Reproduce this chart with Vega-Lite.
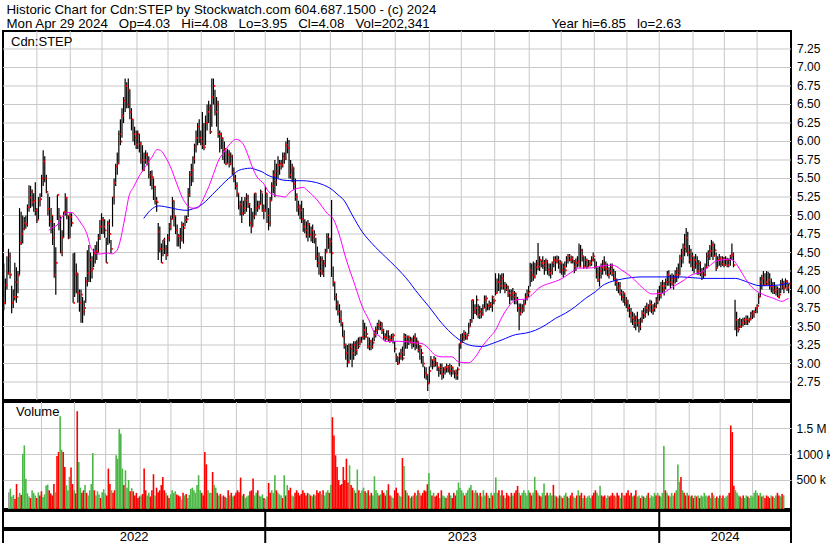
{
"$schema":"https://vega.github.io/schema/vega-lite/v6.json",
"background":"white",
"padding":{"left":1,"top":3,"right":0,"bottom":0},
"config":{"view":{"stroke":"#000","strokeWidth":2},"font":"Liberation Sans","axisX":{"disable":true},"axis":{"gridColor":"#c8c8c8","gridOpacity":1,"labelFont":"Liberation Sans","labelFontSize":12,"labelColor":"#000","ticks":false,"domain":false,"labelOverlap":false}},
"title":{"text":["Historic Chart for Cdn:STEP by Stockwatch.com 604.687.1500 - (c) 2024","Mon Apr 29 2024 \u00a0 Op=4.03 \u00a0 Hi=4.08 \u00a0 Lo=3.95 \u00a0 Cl=4.08 \u00a0 Vol=202,341 \u00a0\u00a0\u00a0\u00a0\u00a0\u00a0\u00a0\u00a0\u00a0\u00a0\u00a0\u00a0\u00a0\u00a0\u00a0\u00a0\u00a0\u00a0\u00a0\u00a0\u00a0\u00a0\u00a0\u00a0\u00a0\u00a0\u00a0\u00a0\u00a0\u00a0\u00a0 Year hi=6.85 \u00a0 lo=2.63"],"anchor":"start","fontSize":13.3,"fontWeight":"normal","font":"Liberation Sans","color":"#000","lineHeight":14,"offset":-1,"dx":5},
"datasets":{
"px":[
{"i":2,"h":4.35,"l":3.72,"c":3.82,"v":260},{"i":3,"h":4.15,"l":3.80,"c":4.06,"v":330},{"i":4,"h":4.45,"l":4.00,"c":4.22,"v":180},{"i":5,"h":4.55,"l":4.20,"c":4.45,"v":210},{"i":6,"h":4.50,"l":4.15,"c":4.20,"v":130},{"i":7,"h":4.05,"l":3.68,"c":3.82,"v":420},{"i":8,"h":4.00,"l":3.75,"c":3.90,"v":170},{"i":9,"h":4.36,"l":3.85,"c":4.10,"v":250},{"i":10,"h":4.30,"l":3.82,"c":3.90,"v":210},{"i":11,"h":4.25,"l":3.95,"c":4.19,"v":1006},
{"i":12,"h":5.10,"l":4.20,"c":4.63,"v":1167},{"i":13,"h":5.05,"l":4.60,"c":4.75,"v":520},{"i":14,"h":5.00,"l":4.62,"c":4.82,"v":240},{"i":15,"h":4.98,"l":4.80,"c":4.90,"v":180},{"i":16,"h":5.00,"l":4.82,"c":4.88,"v":150},{"i":17,"h":5.15,"l":4.85,"c":5.11,"v":300},{"i":18,"h":5.41,"l":5.05,"c":5.24,"v":250},{"i":19,"h":5.40,"l":5.10,"c":5.32,"v":200},{"i":20,"h":5.35,"l":5.12,"c":5.18,"v":150},{"i":21,"h":5.30,"l":5.05,"c":5.20,"v":260},
{"i":22,"h":5.45,"l":5.00,"c":5.07,"v":200},{"i":23,"h":5.10,"l":4.90,"c":4.94,"v":280},{"i":24,"h":5.25,"l":4.95,"c":5.20,"v":170},{"i":25,"h":5.30,"l":5.12,"c":5.22,"v":220},{"i":26,"h":5.55,"l":5.25,"c":5.50,"v":390},{"i":27,"h":5.88,"l":5.40,"c":5.73,"v":410},{"i":28,"h":5.80,"l":5.45,"c":5.50,"v":300},{"i":29,"h":5.55,"l":5.30,"c":5.32,"v":240},{"i":30,"h":5.30,"l":5.00,"c":5.09,"v":200},{"i":31,"h":5.25,"l":4.85,"c":4.92,"v":420},
{"i":32,"h":5.10,"l":4.76,"c":5.00,"v":260},{"i":33,"h":5.00,"l":4.60,"c":4.70,"v":960},{"i":34,"h":4.90,"l":4.16,"c":4.20,"v":1040},{"i":35,"h":4.57,"l":3.93,"c":4.36,"v":1730},{"i":36,"h":5.28,"l":4.94,"c":5.28,"v":1083},{"i":37,"h":5.10,"l":4.80,"c":4.99,"v":1040},{"i":38,"h":4.98,"l":4.49,"c":4.50,"v":750},{"i":39,"h":4.80,"l":4.45,"c":4.70,"v":400},{"i":40,"h":5.05,"l":4.70,"c":5.05,"v":300},{"i":41,"h":5.30,"l":5.00,"c":5.24,"v":560},
{"i":42,"h":5.25,"l":4.95,"c":5.00,"v":740},{"i":43,"h":5.00,"l":4.68,"c":4.70,"v":420},{"i":44,"h":5.03,"l":4.70,"c":4.98,"v":300},{"i":45,"h":5.03,"l":4.85,"c":4.90,"v":240},{"i":46,"h":4.49,"l":3.82,"c":3.82,"v":1827},{"i":47,"h":4.50,"l":3.90,"c":4.20,"v":846},{"i":48,"h":4.35,"l":3.95,"c":4.22,"v":350},{"i":49,"h":4.22,"l":3.82,"c":3.95,"v":250},{"i":50,"h":4.00,"l":3.70,"c":3.82,"v":300},{"i":51,"h":4.00,"l":3.55,"c":3.93,"v":400},
{"i":52,"h":3.90,"l":3.55,"c":3.70,"v":250},{"i":53,"h":3.85,"l":3.65,"c":3.75,"v":200},{"i":54,"h":4.17,"l":3.82,"c":4.11,"v":300},{"i":55,"h":4.53,"l":4.04,"c":4.22,"v":420},{"i":56,"h":4.60,"l":4.10,"c":4.40,"v":1019},{"i":57,"h":4.50,"l":4.10,"c":4.25,"v":300},{"i":58,"h":4.45,"l":4.15,"c":4.28,"v":200},{"i":59,"h":4.55,"l":4.30,"c":4.49,"v":280},{"i":60,"h":4.60,"l":4.35,"c":4.52,"v":220},{"i":61,"h":4.65,"l":4.40,"c":4.50,"v":150},
{"i":62,"h":4.75,"l":4.50,"c":4.70,"v":260},{"i":63,"h":4.94,"l":4.67,"c":4.85,"v":320},{"i":64,"h":5.03,"l":4.75,"c":4.94,"v":240},{"i":65,"h":4.98,"l":4.75,"c":4.85,"v":200},{"i":66,"h":4.95,"l":4.70,"c":4.80,"v":718},{"i":67,"h":4.70,"l":4.36,"c":4.36,"v":420},{"i":68,"h":4.93,"l":4.60,"c":4.89,"v":300},{"i":69,"h":4.95,"l":4.62,"c":4.75,"v":250},{"i":70,"h":4.67,"l":4.49,"c":4.55,"v":300},{"i":71,"h":5.25,"l":4.85,"c":5.25,"v":974},
{"i":72,"h":5.50,"l":5.15,"c":5.44,"v":910},{"i":73,"h":5.70,"l":5.40,"c":5.66,"v":1480},{"i":74,"h":5.85,"l":5.55,"c":5.70,"v":1390},{"i":75,"h":6.15,"l":5.70,"c":6.10,"v":720},{"i":76,"h":6.30,"l":5.95,"c":6.00,"v":400},{"i":77,"h":6.45,"l":6.05,"c":6.35,"v":686},{"i":78,"h":6.60,"l":6.25,"c":6.55,"v":350},{"i":79,"h":6.85,"l":6.40,"c":6.75,"v":500},{"i":80,"h":6.80,"l":6.45,"c":6.50,"v":280},{"i":81,"h":6.85,"l":6.45,"c":6.70,"v":340},
{"i":82,"h":6.70,"l":6.30,"c":6.40,"v":280},{"i":83,"h":6.45,"l":6.15,"c":6.30,"v":200},{"i":84,"h":6.30,"l":6.00,"c":6.10,"v":250},{"i":85,"h":6.20,"l":5.95,"c":6.05,"v":150},{"i":86,"h":6.15,"l":5.90,"c":5.96,"v":180},{"i":87,"h":6.15,"l":5.90,"c":6.10,"v":200},{"i":88,"h":6.10,"l":5.85,"c":5.97,"v":230},{"i":89,"h":6.00,"l":5.70,"c":5.75,"v":718},{"i":90,"h":5.95,"l":5.60,"c":5.61,"v":300},{"i":91,"h":5.85,"l":5.60,"c":5.75,"v":200},
{"i":92,"h":5.88,"l":5.70,"c":5.82,"v":250},{"i":93,"h":5.85,"l":5.68,"c":5.73,"v":180},{"i":94,"h":5.80,"l":5.50,"c":5.55,"v":300},{"i":95,"h":5.60,"l":5.40,"c":5.50,"v":609},{"i":96,"h":5.61,"l":5.35,"c":5.52,"v":200},{"i":97,"h":5.50,"l":5.21,"c":5.39,"v":350},{"i":98,"h":5.40,"l":5.15,"c":5.20,"v":260},{"i":99,"h":5.25,"l":5.05,"c":5.18,"v":300},{"i":100,"h":4.90,"l":4.40,"c":4.78,"v":400},{"i":101,"h":4.85,"l":4.50,"c":4.55,"v":558},
{"i":102,"h":4.62,"l":4.36,"c":4.36,"v":300},{"i":103,"h":4.67,"l":4.45,"c":4.67,"v":250},{"i":104,"h":4.70,"l":4.48,"c":4.55,"v":200},{"i":105,"h":4.60,"l":4.40,"c":4.47,"v":150},{"i":106,"h":4.75,"l":4.45,"c":4.70,"v":220},{"i":107,"h":4.90,"l":4.65,"c":4.85,"v":300},{"i":108,"h":5.00,"l":4.80,"c":4.95,"v":250},{"i":109,"h":5.25,"l":4.95,"c":5.20,"v":280},{"i":110,"h":5.20,"l":4.85,"c":4.99,"v":220},{"i":111,"h":5.00,"l":4.75,"c":4.80,"v":200},
{"i":112,"h":4.88,"l":4.58,"c":4.72,"v":180},{"i":113,"h":4.75,"l":4.58,"c":4.72,"v":120},{"i":114,"h":4.83,"l":4.55,"c":4.67,"v":250},{"i":115,"h":4.92,"l":4.65,"c":4.87,"v":200},{"i":116,"h":4.90,"l":4.62,"c":4.83,"v":230},{"i":117,"h":5.00,"l":4.85,"c":4.94,"v":150},{"i":118,"h":5.00,"l":4.90,"c":4.95,"v":210},{"i":119,"h":5.37,"l":4.98,"c":5.28,"v":330},{"i":120,"h":5.60,"l":5.25,"c":5.55,"v":350},{"i":121,"h":5.70,"l":5.40,"c":5.61,"v":300},
{"i":122,"h":5.80,"l":5.45,"c":5.77,"v":250},{"i":123,"h":5.97,"l":5.70,"c":5.93,"v":400},{"i":124,"h":6.15,"l":5.85,"c":6.05,"v":590},{"i":125,"h":6.25,"l":5.95,"c":6.20,"v":300},{"i":126,"h":6.30,"l":5.98,"c":6.05,"v":250},{"i":127,"h":6.15,"l":5.95,"c":6.00,"v":200},{"i":128,"h":6.40,"l":5.90,"c":5.95,"v":1040},{"i":129,"h":6.25,"l":5.88,"c":5.92,"v":800},{"i":130,"h":6.35,"l":5.95,"c":6.25,"v":300},{"i":131,"h":6.50,"l":6.15,"c":6.40,"v":250},
{"i":132,"h":6.55,"l":6.25,"c":6.45,"v":250},{"i":133,"h":6.50,"l":6.10,"c":6.13,"v":654},{"i":134,"h":6.85,"l":6.20,"c":6.60,"v":400},{"i":135,"h":6.85,"l":6.50,"c":6.75,"v":350},{"i":136,"h":6.70,"l":6.35,"c":6.40,"v":250},{"i":137,"h":6.60,"l":6.20,"c":6.50,"v":200},{"i":138,"h":6.55,"l":6.05,"c":6.10,"v":230},{"i":139,"h":6.15,"l":5.85,"c":6.10,"v":180},{"i":140,"h":6.12,"l":5.90,"c":6.05,"v":200},{"i":141,"h":6.05,"l":5.75,"c":5.88,"v":170},
{"i":142,"h":6.00,"l":5.70,"c":5.90,"v":150},{"i":143,"h":5.88,"l":5.68,"c":5.70,"v":300},{"i":144,"h":5.90,"l":5.70,"c":5.82,"v":200},{"i":145,"h":5.88,"l":5.65,"c":5.70,"v":250},{"i":146,"h":5.85,"l":5.68,"c":5.80,"v":180},{"i":147,"h":5.82,"l":5.55,"c":5.59,"v":200},{"i":148,"h":5.65,"l":5.45,"c":5.50,"v":250},{"i":149,"h":5.55,"l":5.35,"c":5.40,"v":300},{"i":150,"h":5.45,"l":5.25,"c":5.30,"v":260},{"i":151,"h":5.30,"l":5.08,"c":5.12,"v":545},
{"i":152,"h":5.20,"l":5.00,"c":5.15,"v":200},{"i":153,"h":5.25,"l":4.90,"c":5.03,"v":230},{"i":154,"h":5.20,"l":5.00,"c":5.10,"v":150},{"i":155,"h":5.25,"l":5.02,"c":5.20,"v":180},{"i":156,"h":5.30,"l":5.05,"c":5.25,"v":200},{"i":157,"h":5.28,"l":5.10,"c":5.15,"v":280},{"i":158,"h":5.17,"l":4.85,"c":4.90,"v":300},{"i":159,"h":5.10,"l":4.76,"c":4.85,"v":525},{"i":160,"h":5.05,"l":4.85,"c":4.99,"v":200},{"i":161,"h":5.30,"l":4.95,"c":5.30,"v":250},
{"i":162,"h":5.30,"l":5.00,"c":5.10,"v":300},{"i":163,"h":5.20,"l":5.05,"c":5.12,"v":200},{"i":164,"h":5.20,"l":5.08,"c":5.15,"v":180},{"i":165,"h":5.35,"l":5.15,"c":5.32,"v":220},{"i":166,"h":5.30,"l":5.05,"c":5.07,"v":150},{"i":167,"h":5.15,"l":4.95,"c":5.07,"v":130},{"i":168,"h":5.40,"l":5.05,"c":5.30,"v":180},{"i":169,"h":5.30,"l":4.90,"c":5.00,"v":440},{"i":170,"h":5.10,"l":4.80,"c":4.90,"v":250},{"i":171,"h":5.25,"l":4.85,"c":5.20,"v":300},
{"i":172,"h":5.45,"l":5.20,"c":5.40,"v":250},{"i":173,"h":5.61,"l":5.30,"c":5.55,"v":590},{"i":174,"h":5.75,"l":5.25,"c":5.45,"v":300},{"i":175,"h":5.70,"l":5.40,"c":5.60,"v":250},{"i":176,"h":5.80,"l":5.50,"c":5.68,"v":220},{"i":177,"h":5.75,"l":5.55,"c":5.70,"v":200},{"i":178,"h":5.75,"l":5.62,"c":5.68,"v":150},{"i":179,"h":5.85,"l":5.65,"c":5.80,"v":590},{"i":180,"h":5.85,"l":5.70,"c":5.77,"v":200},{"i":181,"h":6.00,"l":5.75,"c":5.95,"v":400},
{"i":182,"h":6.05,"l":5.84,"c":5.91,"v":300},{"i":183,"h":6.02,"l":5.50,"c":5.55,"v":350},{"i":184,"h":5.75,"l":5.50,"c":5.61,"v":200},{"i":185,"h":5.70,"l":5.45,"c":5.65,"v":180},{"i":186,"h":5.65,"l":5.35,"c":5.43,"v":250},{"i":187,"h":5.50,"l":5.20,"c":5.25,"v":300},{"i":188,"h":5.30,"l":5.05,"c":5.12,"v":250},{"i":189,"h":5.20,"l":5.00,"c":5.10,"v":200},{"i":190,"h":5.15,"l":4.95,"c":5.07,"v":230},{"i":191,"h":5.20,"l":4.90,"c":4.95,"v":300},
{"i":192,"h":5.10,"l":4.78,"c":4.85,"v":250},{"i":193,"h":4.95,"l":4.76,"c":4.80,"v":200},{"i":194,"h":4.92,"l":4.70,"c":4.74,"v":250},{"i":195,"h":4.94,"l":4.65,"c":4.88,"v":230},{"i":196,"h":4.90,"l":4.70,"c":4.74,"v":200},{"i":197,"h":4.85,"l":4.65,"c":4.80,"v":180},{"i":198,"h":4.88,"l":4.63,"c":4.70,"v":220},{"i":199,"h":4.80,"l":4.62,"c":4.74,"v":200},{"i":200,"h":4.70,"l":4.40,"c":4.45,"v":300},{"i":201,"h":4.58,"l":4.30,"c":4.36,"v":250},
{"i":202,"h":4.50,"l":4.20,"c":4.25,"v":280},{"i":203,"h":4.45,"l":4.17,"c":4.40,"v":220},{"i":204,"h":4.45,"l":4.20,"c":4.22,"v":300},{"i":205,"h":4.40,"l":4.17,"c":4.35,"v":200},{"i":206,"h":4.55,"l":4.30,"c":4.50,"v":260},{"i":207,"h":4.76,"l":4.50,"c":4.71,"v":300},{"i":208,"h":4.76,"l":4.55,"c":4.60,"v":250},{"i":209,"h":4.70,"l":4.49,"c":4.65,"v":400},{"i":210,"h":5.21,"l":4.17,"c":4.49,"v":1711},{"i":211,"h":4.31,"l":4.04,"c":4.10,"v":1359},
{"i":212,"h":4.10,"l":3.85,"c":3.90,"v":975},{"i":213,"h":3.95,"l":3.72,"c":3.80,"v":750},{"i":214,"h":3.85,"l":3.65,"c":3.70,"v":500},{"i":215,"h":3.80,"l":3.55,"c":3.60,"v":400},{"i":216,"h":3.72,"l":3.50,"c":3.55,"v":420},{"i":217,"h":3.55,"l":3.36,"c":3.36,"v":750},{"i":218,"h":3.45,"l":3.20,"c":3.25,"v":500},{"i":219,"h":3.27,"l":3.05,"c":3.14,"v":910},{"i":220,"h":3.25,"l":2.95,"c":3.02,"v":450},{"i":221,"h":3.27,"l":3.00,"c":3.23,"v":782},
{"i":222,"h":3.27,"l":3.05,"c":3.20,"v":400},{"i":223,"h":3.27,"l":2.95,"c":3.14,"v":350},{"i":224,"h":3.30,"l":3.05,"c":3.25,"v":300},{"i":225,"h":3.30,"l":3.10,"c":3.18,"v":250},{"i":226,"h":3.32,"l":3.12,"c":3.28,"v":700},{"i":227,"h":3.35,"l":3.20,"c":3.23,"v":300},{"i":228,"h":3.36,"l":3.25,"c":3.30,"v":250},{"i":229,"h":3.36,"l":3.28,"c":3.36,"v":300},{"i":230,"h":3.59,"l":3.32,"c":3.45,"v":350},{"i":231,"h":3.55,"l":3.32,"c":3.36,"v":280},
{"i":232,"h":3.50,"l":3.35,"c":3.40,"v":250},{"i":233,"h":3.36,"l":3.20,"c":3.23,"v":300},{"i":234,"h":3.35,"l":3.18,"c":3.30,"v":200},{"i":235,"h":3.32,"l":3.18,"c":3.23,"v":250},{"i":236,"h":3.35,"l":3.20,"c":3.28,"v":200},{"i":237,"h":3.45,"l":3.30,"c":3.39,"v":570},{"i":238,"h":3.50,"l":3.35,"c":3.45,"v":300},{"i":239,"h":3.55,"l":3.40,"c":3.52,"v":250},{"i":240,"h":3.59,"l":3.45,"c":3.50,"v":200},{"i":241,"h":3.57,"l":3.45,"c":3.55,"v":220},
{"i":242,"h":3.55,"l":3.40,"c":3.45,"v":300},{"i":243,"h":3.47,"l":3.32,"c":3.36,"v":250},{"i":244,"h":3.41,"l":3.30,"c":3.35,"v":200},{"i":245,"h":3.45,"l":3.32,"c":3.43,"v":300},{"i":246,"h":3.45,"l":3.30,"c":3.33,"v":417},{"i":247,"h":3.38,"l":3.28,"c":3.32,"v":200},{"i":248,"h":3.40,"l":3.30,"c":3.36,"v":180},{"i":249,"h":3.41,"l":3.27,"c":3.38,"v":150},{"i":250,"h":3.30,"l":3.15,"c":3.20,"v":300},{"i":251,"h":3.14,"l":3.02,"c":3.09,"v":350},
{"i":252,"h":3.09,"l":2.98,"c":3.00,"v":250},{"i":253,"h":3.15,"l":3.00,"c":3.10,"v":200},{"i":254,"h":3.20,"l":3.05,"c":3.15,"v":180},{"i":255,"h":3.23,"l":3.04,"c":3.07,"v":923},{"i":256,"h":3.41,"l":3.10,"c":3.36,"v":770},{"i":257,"h":3.40,"l":3.20,"c":3.30,"v":300},{"i":258,"h":3.38,"l":3.20,"c":3.36,"v":250},{"i":259,"h":3.38,"l":3.25,"c":3.30,"v":200},{"i":260,"h":3.36,"l":3.27,"c":3.32,"v":150},{"i":261,"h":3.35,"l":3.20,"c":3.28,"v":180},
{"i":262,"h":3.38,"l":3.22,"c":3.35,"v":200},{"i":263,"h":3.41,"l":3.18,"c":3.27,"v":250},{"i":264,"h":3.35,"l":3.20,"c":3.30,"v":200},{"i":265,"h":3.30,"l":3.15,"c":3.18,"v":300},{"i":266,"h":3.25,"l":3.05,"c":3.23,"v":250},{"i":267,"h":3.20,"l":3.00,"c":3.14,"v":200},{"i":268,"h":3.10,"l":2.95,"c":3.00,"v":250},{"i":269,"h":2.96,"l":2.80,"c":2.87,"v":300},{"i":270,"h":2.95,"l":2.78,"c":2.85,"v":280},{"i":271,"h":2.85,"l":2.63,"c":2.73,"v":417},
{"i":272,"h":2.96,"l":2.73,"c":2.90,"v":635},{"i":273,"h":3.10,"l":2.95,"c":3.05,"v":300},{"i":274,"h":3.05,"l":2.92,"c":2.98,"v":200},{"i":275,"h":3.10,"l":2.95,"c":3.05,"v":250},{"i":276,"h":3.08,"l":2.96,"c":3.00,"v":180},{"i":277,"h":3.02,"l":2.90,"c":2.95,"v":200},{"i":278,"h":2.95,"l":2.82,"c":2.91,"v":250},{"i":279,"h":3.00,"l":2.85,"c":2.95,"v":150},{"i":280,"h":3.00,"l":2.78,"c":2.86,"v":300},{"i":281,"h":2.95,"l":2.80,"c":2.92,"v":200},
{"i":282,"h":2.96,"l":2.85,"c":2.95,"v":180},{"i":283,"h":3.00,"l":2.88,"c":2.93,"v":150},{"i":284,"h":2.98,"l":2.88,"c":2.96,"v":200},{"i":285,"h":3.00,"l":2.85,"c":2.90,"v":250},{"i":286,"h":2.98,"l":2.82,"c":2.95,"v":200},{"i":287,"h":2.95,"l":2.85,"c":2.90,"v":150},{"i":288,"h":2.90,"l":2.80,"c":2.87,"v":250},{"i":289,"h":2.92,"l":2.78,"c":2.84,"v":200},{"i":290,"h":2.95,"l":2.78,"c":2.92,"v":300},{"i":291,"h":3.27,"l":2.96,"c":3.27,"v":450},
{"i":292,"h":3.40,"l":3.20,"c":3.30,"v":350},{"i":293,"h":3.41,"l":3.28,"c":3.36,"v":300},{"i":294,"h":3.45,"l":3.30,"c":3.40,"v":250},{"i":295,"h":3.43,"l":3.32,"c":3.35,"v":200},{"i":296,"h":3.41,"l":3.32,"c":3.38,"v":250},{"i":297,"h":3.55,"l":3.40,"c":3.50,"v":300},{"i":298,"h":3.60,"l":3.50,"c":3.57,"v":350},{"i":299,"h":3.86,"l":3.55,"c":3.86,"v":400},{"i":300,"h":3.86,"l":3.60,"c":3.70,"v":300},{"i":301,"h":3.80,"l":3.67,"c":3.75,"v":250},
{"i":302,"h":3.92,"l":3.65,"c":3.86,"v":300},{"i":303,"h":3.80,"l":3.61,"c":3.66,"v":250},{"i":304,"h":3.78,"l":3.60,"c":3.70,"v":200},{"i":305,"h":3.75,"l":3.61,"c":3.66,"v":250},{"i":306,"h":3.80,"l":3.65,"c":3.75,"v":180},{"i":307,"h":3.92,"l":3.75,"c":3.86,"v":300},{"i":308,"h":3.92,"l":3.70,"c":3.88,"v":200},{"i":309,"h":3.81,"l":3.72,"c":3.78,"v":250},{"i":310,"h":3.85,"l":3.72,"c":3.80,"v":200},{"i":311,"h":3.83,"l":3.75,"c":3.78,"v":150},
{"i":312,"h":3.92,"l":3.70,"c":3.90,"v":250},{"i":313,"h":3.88,"l":3.80,"c":3.85,"v":200},{"i":314,"h":4.22,"l":3.92,"c":3.95,"v":250},{"i":315,"h":4.15,"l":3.95,"c":4.10,"v":545},{"i":316,"h":4.22,"l":3.98,"c":4.11,"v":250},{"i":317,"h":4.20,"l":3.95,"c":4.05,"v":300},{"i":318,"h":4.22,"l":4.00,"c":4.15,"v":200},{"i":319,"h":4.22,"l":4.00,"c":4.05,"v":300},{"i":320,"h":4.10,"l":3.95,"c":4.00,"v":200},{"i":321,"h":4.08,"l":3.98,"c":4.04,"v":150},
{"i":322,"h":4.05,"l":3.90,"c":3.95,"v":250},{"i":323,"h":4.00,"l":3.80,"c":3.92,"v":200},{"i":324,"h":4.00,"l":3.85,"c":3.95,"v":180},{"i":325,"h":4.02,"l":3.85,"c":3.90,"v":250},{"i":326,"h":3.98,"l":3.80,"c":3.95,"v":200},{"i":327,"h":3.95,"l":3.80,"c":3.86,"v":250},{"i":328,"h":3.90,"l":3.70,"c":3.75,"v":300},{"i":329,"h":3.81,"l":3.45,"c":3.68,"v":385},{"i":330,"h":3.81,"l":3.65,"c":3.75,"v":250},{"i":331,"h":3.80,"l":3.68,"c":3.72,"v":200},
{"i":332,"h":3.86,"l":3.70,"c":3.80,"v":250},{"i":333,"h":3.95,"l":3.80,"c":3.90,"v":300},{"i":334,"h":4.00,"l":3.85,"c":3.95,"v":250},{"i":335,"h":4.05,"l":3.90,"c":3.97,"v":200},{"i":336,"h":4.36,"l":4.04,"c":4.26,"v":300},{"i":337,"h":4.35,"l":4.10,"c":4.20,"v":250},{"i":338,"h":4.38,"l":4.12,"c":4.17,"v":200},{"i":339,"h":4.36,"l":4.15,"c":4.30,"v":250},{"i":340,"h":4.40,"l":4.20,"c":4.35,"v":558},{"i":341,"h":4.63,"l":4.26,"c":4.31,"v":300},
{"i":342,"h":4.45,"l":4.25,"c":4.40,"v":250},{"i":343,"h":4.40,"l":4.30,"c":4.36,"v":200},{"i":344,"h":4.45,"l":4.28,"c":4.32,"v":180},{"i":345,"h":4.40,"l":4.20,"c":4.36,"v":250},{"i":346,"h":4.42,"l":4.25,"c":4.38,"v":430},{"i":347,"h":4.40,"l":4.20,"c":4.27,"v":200},{"i":348,"h":4.35,"l":4.18,"c":4.22,"v":250},{"i":349,"h":4.35,"l":4.15,"c":4.26,"v":200},{"i":350,"h":4.38,"l":4.20,"c":4.36,"v":250},{"i":351,"h":4.45,"l":4.30,"c":4.40,"v":200},
{"i":352,"h":4.45,"l":4.25,"c":4.38,"v":404},{"i":353,"h":4.46,"l":4.35,"c":4.40,"v":200},{"i":354,"h":4.45,"l":4.28,"c":4.35,"v":180},{"i":355,"h":4.40,"l":4.22,"c":4.36,"v":150},{"i":356,"h":4.38,"l":4.20,"c":4.26,"v":200},{"i":357,"h":4.35,"l":4.17,"c":4.30,"v":180},{"i":358,"h":4.38,"l":4.20,"c":4.26,"v":150},{"i":359,"h":4.45,"l":4.30,"c":4.40,"v":200},{"i":360,"h":4.48,"l":4.35,"c":4.45,"v":250},{"i":361,"h":4.48,"l":4.38,"c":4.40,"v":180},
{"i":362,"h":4.46,"l":4.35,"c":4.42,"v":150},{"i":363,"h":4.45,"l":4.35,"c":4.38,"v":200},{"i":364,"h":4.40,"l":4.22,"c":4.31,"v":250},{"i":365,"h":4.42,"l":4.25,"c":4.36,"v":180},{"i":366,"h":4.45,"l":4.30,"c":4.38,"v":150},{"i":367,"h":4.62,"l":4.31,"c":4.31,"v":200},{"i":368,"h":4.60,"l":4.30,"c":4.53,"v":300},{"i":369,"h":4.55,"l":4.38,"c":4.45,"v":200},{"i":370,"h":4.45,"l":4.28,"c":4.31,"v":250},{"i":371,"h":4.45,"l":4.30,"c":4.40,"v":150},
{"i":372,"h":4.42,"l":4.28,"c":4.31,"v":200},{"i":373,"h":4.40,"l":4.30,"c":4.35,"v":150},{"i":374,"h":4.40,"l":4.31,"c":4.36,"v":180},{"i":375,"h":4.45,"l":4.32,"c":4.40,"v":200},{"i":376,"h":4.50,"l":4.38,"c":4.45,"v":150},{"i":377,"h":4.42,"l":4.28,"c":4.31,"v":200},{"i":378,"h":4.38,"l":4.15,"c":4.20,"v":250},{"i":379,"h":4.30,"l":4.10,"c":4.13,"v":300},{"i":380,"h":4.31,"l":4.04,"c":4.25,"v":250},{"i":381,"h":4.35,"l":4.15,"c":4.30,"v":200},
{"i":382,"h":4.40,"l":4.20,"c":4.35,"v":385},{"i":383,"h":4.45,"l":4.25,"c":4.30,"v":200},{"i":384,"h":4.38,"l":4.20,"c":4.28,"v":180},{"i":385,"h":4.35,"l":4.18,"c":4.20,"v":200},{"i":386,"h":4.30,"l":4.15,"c":4.25,"v":150},{"i":387,"h":4.35,"l":4.20,"c":4.30,"v":200},{"i":388,"h":4.35,"l":4.18,"c":4.22,"v":180},{"i":389,"h":4.28,"l":4.12,"c":4.15,"v":200},{"i":390,"h":4.25,"l":4.05,"c":4.10,"v":250},{"i":391,"h":4.15,"l":3.98,"c":4.02,"v":200},
{"i":392,"h":4.10,"l":3.95,"c":4.05,"v":180},{"i":393,"h":4.10,"l":3.92,"c":3.95,"v":250},{"i":394,"h":4.00,"l":3.85,"c":3.90,"v":200},{"i":395,"h":3.98,"l":3.82,"c":3.95,"v":150},{"i":396,"h":3.95,"l":3.78,"c":3.82,"v":250},{"i":397,"h":3.90,"l":3.75,"c":3.85,"v":200},{"i":398,"h":3.86,"l":3.70,"c":3.75,"v":200},{"i":399,"h":3.80,"l":3.62,"c":3.68,"v":250},{"i":400,"h":3.75,"l":3.55,"c":3.62,"v":300},{"i":401,"h":3.70,"l":3.52,"c":3.60,"v":200},
{"i":402,"h":3.68,"l":3.48,"c":3.55,"v":250},{"i":403,"h":3.65,"l":3.45,"c":3.62,"v":180},{"i":404,"h":3.70,"l":3.50,"c":3.55,"v":200},{"i":405,"h":3.60,"l":3.42,"c":3.50,"v":300},{"i":406,"h":3.62,"l":3.45,"c":3.58,"v":180},{"i":407,"h":3.72,"l":3.55,"c":3.68,"v":200},{"i":408,"h":3.75,"l":3.60,"c":3.65,"v":150},{"i":409,"h":3.78,"l":3.62,"c":3.75,"v":200},{"i":410,"h":3.82,"l":3.68,"c":3.72,"v":180},{"i":411,"h":3.80,"l":3.65,"c":3.78,"v":150},
{"i":412,"h":3.86,"l":3.70,"c":3.80,"v":200},{"i":413,"h":3.85,"l":3.68,"c":3.72,"v":250},{"i":414,"h":3.80,"l":3.66,"c":3.75,"v":150},{"i":415,"h":3.82,"l":3.70,"c":3.78,"v":200},{"i":416,"h":3.90,"l":3.75,"c":3.85,"v":180},{"i":417,"h":4.00,"l":3.80,"c":3.95,"v":250},{"i":418,"h":4.05,"l":3.85,"c":3.92,"v":200},{"i":419,"h":4.10,"l":3.88,"c":4.05,"v":250},{"i":420,"h":4.13,"l":3.95,"c":4.00,"v":200},{"i":421,"h":4.10,"l":3.92,"c":4.05,"v":180},
{"i":422,"h":4.15,"l":4.00,"c":4.10,"v":250},{"i":423,"h":4.25,"l":4.05,"c":4.20,"v":1154},{"i":424,"h":4.26,"l":4.05,"c":4.10,"v":300},{"i":425,"h":4.20,"l":4.02,"c":4.15,"v":250},{"i":426,"h":4.22,"l":4.05,"c":4.08,"v":200},{"i":427,"h":4.20,"l":4.00,"c":4.15,"v":180},{"i":428,"h":4.26,"l":4.08,"c":4.20,"v":250},{"i":429,"h":4.30,"l":4.10,"c":4.25,"v":200},{"i":430,"h":4.35,"l":4.15,"c":4.20,"v":250},{"i":431,"h":4.47,"l":4.20,"c":4.42,"v":300},
{"i":432,"h":4.55,"l":4.30,"c":4.50,"v":800},{"i":433,"h":4.62,"l":4.35,"c":4.58,"v":462},{"i":434,"h":4.75,"l":4.45,"c":4.55,"v":558},{"i":435,"h":4.83,"l":4.50,"c":4.70,"v":300},{"i":436,"h":4.78,"l":4.45,"c":4.50,"v":250},{"i":437,"h":4.60,"l":4.35,"c":4.40,"v":200},{"i":438,"h":4.55,"l":4.30,"c":4.45,"v":250},{"i":439,"h":4.50,"l":4.25,"c":4.30,"v":200},{"i":440,"h":4.45,"l":4.22,"c":4.40,"v":180},{"i":441,"h":4.48,"l":4.28,"c":4.35,"v":200},
{"i":442,"h":4.45,"l":4.20,"c":4.25,"v":150},{"i":443,"h":4.40,"l":4.20,"c":4.35,"v":200},{"i":444,"h":4.38,"l":4.18,"c":4.22,"v":180},{"i":445,"h":4.29,"l":4.13,"c":4.24,"v":200},{"i":446,"h":4.30,"l":4.15,"c":4.20,"v":150},{"i":447,"h":4.35,"l":4.18,"c":4.30,"v":200},{"i":448,"h":4.50,"l":4.28,"c":4.45,"v":180},{"i":449,"h":4.53,"l":4.31,"c":4.49,"v":250},{"i":450,"h":4.60,"l":4.40,"c":4.52,"v":200},{"i":451,"h":4.67,"l":4.44,"c":4.60,"v":180},
{"i":452,"h":4.65,"l":4.40,"c":4.45,"v":200},{"i":453,"h":4.62,"l":4.45,"c":4.53,"v":150},{"i":454,"h":4.50,"l":4.25,"c":4.29,"v":250},{"i":455,"h":4.45,"l":4.30,"c":4.40,"v":200},{"i":456,"h":4.48,"l":4.32,"c":4.42,"v":150},{"i":457,"h":4.45,"l":4.30,"c":4.35,"v":180},{"i":458,"h":4.45,"l":4.32,"c":4.42,"v":150},{"i":459,"h":4.44,"l":4.30,"c":4.33,"v":200},{"i":460,"h":4.45,"l":4.32,"c":4.40,"v":150},{"i":461,"h":4.43,"l":4.30,"c":4.33,"v":200},
{"i":462,"h":4.42,"l":4.30,"c":4.40,"v":150},{"i":463,"h":4.47,"l":4.32,"c":4.45,"v":180},{"i":464,"h":4.62,"l":4.40,"c":4.47,"v":200},{"i":465,"h":4.50,"l":4.30,"c":4.33,"v":250},{"i":466,"h":3.86,"l":3.45,"c":3.59,"v":1551},{"i":467,"h":3.70,"l":3.37,"c":3.48,"v":1423},{"i":468,"h":3.60,"l":3.42,"c":3.46,"v":385},{"i":469,"h":3.62,"l":3.48,"c":3.50,"v":300},{"i":470,"h":3.60,"l":3.48,"c":3.55,"v":250},{"i":471,"h":3.62,"l":3.50,"c":3.59,"v":200},
{"i":472,"h":3.62,"l":3.52,"c":3.55,"v":180},{"i":473,"h":3.65,"l":3.52,"c":3.60,"v":150},{"i":474,"h":3.65,"l":3.52,"c":3.58,"v":200},{"i":475,"h":3.62,"l":3.55,"c":3.60,"v":150},{"i":476,"h":3.70,"l":3.58,"c":3.68,"v":200},{"i":477,"h":3.72,"l":3.60,"c":3.65,"v":180},{"i":478,"h":3.72,"l":3.62,"c":3.70,"v":150},{"i":479,"h":3.76,"l":3.68,"c":3.75,"v":200},{"i":480,"h":3.80,"l":3.68,"c":3.78,"v":180},{"i":481,"h":3.95,"l":3.80,"c":3.90,"v":250},
{"i":482,"h":4.17,"l":3.90,"c":4.10,"v":300},{"i":483,"h":4.20,"l":4.00,"c":4.15,"v":250},{"i":484,"h":4.25,"l":4.05,"c":4.06,"v":200},{"i":485,"h":4.22,"l":4.05,"c":4.10,"v":250},{"i":486,"h":4.25,"l":4.06,"c":4.08,"v":180},{"i":487,"h":4.24,"l":4.06,"c":4.13,"v":200},{"i":488,"h":4.22,"l":4.00,"c":4.05,"v":150},{"i":489,"h":4.15,"l":3.96,"c":4.04,"v":200},{"i":490,"h":4.10,"l":3.94,"c":3.99,"v":180},{"i":491,"h":4.10,"l":3.94,"c":3.97,"v":150},
{"i":492,"h":4.05,"l":3.92,"c":4.00,"v":200},{"i":493,"h":4.04,"l":3.90,"c":3.90,"v":180},{"i":494,"h":4.02,"l":3.88,"c":3.93,"v":150},{"i":495,"h":4.13,"l":3.95,"c":4.08,"v":200},{"i":496,"h":4.15,"l":4.00,"c":4.04,"v":250},{"i":497,"h":4.12,"l":3.95,"c":4.02,"v":200},{"i":498,"h":4.15,"l":4.02,"c":4.11,"v":180},{"i":499,"h":4.13,"l":3.98,"c":4.03,"v":230},{"i":500,"h":4.08,"l":3.95,"c":4.08,"v":202}
],
"ma1":[
{"i":30.5,"v":4.80},{"i":33,"v":4.84},{"i":35.8,"v":4.87},{"i":38,"v":4.95},{"i":40.1,"v":5.01},{"i":42.2,"v":5.04},{"i":45.3,"v":5.04},{"i":47.5,"v":5.00},{"i":49.6,"v":4.94},{"i":51.5,"v":4.88},{"i":53.8,"v":4.80},{"i":55.5,"v":4.70},{"i":57,"v":4.58},{"i":59,"v":4.52},{"i":61.2,"v":4.48},{"i":63.5,"v":4.48},{"i":66.5,"v":4.49},{"i":68.5,"v":4.49},{"i":70.7,"v":4.48},{"i":72.5,"v":4.50},{"i":73.9,"v":4.53},{"i":76,"v":4.67},{"i":78.1,"v":4.89},{"i":79.8,"v":5.08},{"i":81.3,"v":5.25},{"i":84.5,"v":5.39},{"i":86.6,"v":5.48},{"i":89,"v":5.57},{"i":91.9,"v":5.66},{"i":94,"v":5.73},{"i":96.1,"v":5.79},{"i":99.3,"v":5.89},{"i":101.4,"v":5.88},{"i":104.6,"v":5.79},{"i":107.7,"v":5.66},{"i":110.9,"v":5.48},{"i":113,"v":5.36},{"i":115.1,"v":5.25},{"i":118.3,"v":5.14},{"i":121.5,"v":5.10},{"i":124.7,"v":5.10},{"i":127.8,"v":5.19},{"i":130,"v":5.29},{"i":132.1,"v":5.39},{"i":135.2,"v":5.57},{"i":138.4,"v":5.75},{"i":141.6,"v":5.85},{"i":144.8,"v":5.95},{"i":147,"v":6.00},{"i":149,"v":6.03},{"i":151.1,"v":6.02},{"i":154.3,"v":5.95},{"i":157.4,"v":5.79},{"i":159.6,"v":5.66},{"i":162.7,"v":5.52},{"i":166.9,"v":5.43},{"i":170.1,"v":5.32},{"i":173.3,"v":5.28},{"i":177.5,"v":5.26},{"i":180.7,"v":5.25},{"i":182.8,"v":5.30},{"i":186,"v":5.35},{"i":189.2,"v":5.37},{"i":192,"v":5.38},{"i":195,"v":5.33},{"i":200.8,"v":5.21},{"i":207.2,"v":5.03},{"i":211.4,"v":4.94},{"i":214.6,"v":4.76},{"i":218.8,"v":4.44},{"i":225.1,"v":4.04},{"i":229.4,"v":3.77},{"i":233.6,"v":3.59},{"i":236.8,"v":3.43},{"i":241,"v":3.36},{"i":244.2,"v":3.30},{"i":252.6,"v":3.30},{"i":263.2,"v":3.28},{"i":267.4,"v":3.27},{"i":271.7,"v":3.20},{"i":275.9,"v":3.11},{"i":280.1,"v":3.09},{"i":286.5,"v":3.09},{"i":290.7,"v":3.02},{"i":297,"v":3.01},{"i":301.3,"v":3.09},{"i":305.5,"v":3.23},{"i":309.7,"v":3.34},{"i":314,"v":3.45},{"i":318.2,"v":3.63},{"i":322.4,"v":3.77},{"i":326.7,"v":3.86},{"i":333,"v":3.87},{"i":337.2,"v":3.93},{"i":341.5,"v":4.02},{"i":347.8,"v":4.08},{"i":352.1,"v":4.11},{"i":356.3,"v":4.15},{"i":362.6,"v":4.24},{"i":366.9,"v":4.29},{"i":373.2,"v":4.29},{"i":381.7,"v":4.32},{"i":388,"v":4.33},{"i":394.3,"v":4.26},{"i":400.7,"v":4.16},{"i":407,"v":4.03},{"i":413.4,"v":3.94},{"i":419.7,"v":3.95},{"i":426,"v":4.03},{"i":432.4,"v":4.11},{"i":438.7,"v":4.20},{"i":445.1,"v":4.24},{"i":449.3,"v":4.31},{"i":453.6,"v":4.38},{"i":457.8,"v":4.40},{"i":462,"v":4.41},{"i":465.2,"v":4.39},{"i":467.3,"v":4.33},{"i":470.5,"v":4.22},{"i":474.7,"v":4.08},{"i":478.9,"v":3.99},{"i":482.1,"v":3.95},{"i":486.3,"v":3.91},{"i":490.6,"v":3.88},{"i":493.7,"v":3.85},{"i":495.9,"v":3.84},{"i":498,"v":3.86},{"i":500,"v":3.88}
],
"ma2":[
{"i":90.8,"v":4.96},{"i":95,"v":5.07},{"i":100.3,"v":5.13},{"i":104,"v":5.12},{"i":108.8,"v":5.10},{"i":113,"v":5.08},{"i":118.3,"v":5.07},{"i":122,"v":5.09},{"i":125.7,"v":5.12},{"i":130,"v":5.19},{"i":134.2,"v":5.28},{"i":138.4,"v":5.37},{"i":142.6,"v":5.46},{"i":146.9,"v":5.54},{"i":151.1,"v":5.61},{"i":154.7,"v":5.63},{"i":158.5,"v":5.64},{"i":162,"v":5.62},{"i":165.9,"v":5.59},{"i":169,"v":5.55},{"i":172.3,"v":5.52},{"i":175.5,"v":5.50},{"i":178.6,"v":5.48},{"i":185,"v":5.47},{"i":191.3,"v":5.47},{"i":197,"v":5.46},{"i":204,"v":5.42},{"i":210.3,"v":5.35},{"i":214,"v":5.28},{"i":217.7,"v":5.21},{"i":223,"v":5.01},{"i":229.4,"v":4.78},{"i":235.7,"v":4.62},{"i":244.2,"v":4.44},{"i":250.5,"v":4.31},{"i":259,"v":4.11},{"i":263.2,"v":3.99},{"i":271.7,"v":3.77},{"i":280.1,"v":3.54},{"i":288.6,"v":3.36},{"i":294.9,"v":3.27},{"i":299.2,"v":3.24},{"i":305.5,"v":3.23},{"i":311.9,"v":3.27},{"i":318.2,"v":3.32},{"i":326.7,"v":3.39},{"i":333,"v":3.41},{"i":339.4,"v":3.45},{"i":345.7,"v":3.52},{"i":352.1,"v":3.61},{"i":358.4,"v":3.68},{"i":364.7,"v":3.77},{"i":371.1,"v":3.88},{"i":377.4,"v":3.97},{"i":381.7,"v":4.05},{"i":388,"v":4.11},{"i":394,"v":4.14},{"i":407,"v":4.17},{"i":419.7,"v":4.17},{"i":432.4,"v":4.17},{"i":445.1,"v":4.15},{"i":466.3,"v":4.15},{"i":472.6,"v":4.11},{"i":482.1,"v":4.05},{"i":493.7,"v":4.06},{"i":500,"v":4.09}
],
"mg":[{"m":23},{"m":44.2},{"m":64.3},{"m":86.5},{"m":106.2},{"m":127.3},{"m":148.3},{"m":167.9},{"m":190.1},{"m":209.2},{"m":229.5},{"m":250.4},{"m":272},{"m":292.3},{"m":313.5},{"m":335.4},{"m":355.7},{"m":376.7},{"m":397.4},{"m":417.9},{"m":439.3},{"m":459.2},{"m":480}],
"pt":[{"p":2.75},{"p":3},{"p":3.25},{"p":3.5},{"p":3.75},{"p":4},{"p":4.25},{"p":4.5},{"p":4.75},{"p":5},{"p":5.25},{"p":5.5},{"p":5.75},{"p":6},{"p":6.25},{"p":6.5},{"p":6.75},{"p":7},{"p":7.25}],
"yr":[{"yr":"2022","i":1.5},{"yr":"2022","i":167.9},{"yr":"2023","i":167.9},{"yr":"2023","i":417.9},{"yr":"2024","i":417.9},{"yr":"2024","i":501.5}],
"yb":[{"b":167.9},{"b":417.9}]
},
"resolve":{"scale":{"x":"independent","y":"independent"}},
"spacing":-2,
"vconcat":[
{"width":788,"height":369,
 "layer":[
  {"data":{"name":"mg"},"mark":{"type":"rule","color":"#c8c8c8","strokeWidth":1},
   "encoding":{"x":{"field":"m","type":"quantitative","scale":{"domain":[1.5,501.5],"nice":false,"zero":false},"axis":null}}},
  {"data":{"name":"pt"},"mark":{"type":"rule","color":"#c8c8c8","strokeWidth":1},
   "encoding":{"y":{"field":"p","type":"quantitative","scale":{"domain":[2.507,7.493],"nice":false,"zero":false},"axis":null}}},
  {"data":{"name":"px"},"mark":{"type":"rule","color":"#000","strokeWidth":1.2},
   "encoding":{
    "x":{"field":"i","type":"quantitative","axis":null},
    "y":{"field":"l","type":"quantitative","axis":null},
    "y2":{"field":"h"}}},
  {"data":{"name":"px"},"mark":{"type":"square","color":"#ff0000","size":3,"opacity":1,"filled":true,"xOffset":1},
   "encoding":{"x":{"field":"i","type":"quantitative","axis":null},"y":{"field":"c","type":"quantitative","axis":null}}},
  {"data":{"name":"ma2"},"mark":{"type":"line","color":"#0000ff","strokeWidth":1,"interpolate":"monotone"},
   "encoding":{"x":{"field":"i","type":"quantitative","axis":null},"y":{"field":"v","type":"quantitative","axis":null}}},
  {"data":{"name":"ma1"},"mark":{"type":"line","color":"#ff00ff","strokeWidth":1,"interpolate":"monotone"},
   "encoding":{"x":{"field":"i","type":"quantitative","axis":null},"y":{"field":"v","type":"quantitative","axis":null}}},
  {"data":{"name":"pt"},"mark":{"type":"text","align":"left","baseline":"middle","dx":6,"fontSize":12,"color":"#000"},
   "encoding":{"x":{"datum":501.5,"type":"quantitative","axis":null},"y":{"field":"p","type":"quantitative","axis":null},"text":{"field":"p","type":"quantitative","format":".2f"}}},
  {"data":{"values":[{}]},"mark":{"type":"text","text":"Cdn:STEP","align":"left","baseline":"top","dx":8,"dy":5,"fontSize":13,"color":"#000"},
   "encoding":{"x":{"datum":1.5,"type":"quantitative","axis":null},"y":{"datum":7.493,"type":"quantitative","axis":null}}}
 ]},
{"width":788,"height":107,
 "layer":[
  {"data":{"name":"mg"},"mark":{"type":"rule","color":"#c8c8c8","strokeWidth":1},
   "encoding":{"x":{"field":"m","type":"quantitative","scale":{"domain":[1.5,501.5],"nice":false,"zero":false},"axis":null}}},
  {"data":{"name":"px"},"transform":[{"window":[{"op":"lag","field":"c","as":"pc"}],"sort":[{"field":"i"}]}],
   "mark":{"type":"bar","size":1.6},
   "encoding":{
    "x":{"field":"i","type":"quantitative","axis":null},
    "y":{"field":"v","type":"quantitative","scale":{"domain":[-62,2005],"nice":false,"zero":false},"axis":{"orient":"right","values":[500,1000,1500],"labelExpr":"datum.value==1500?'1.5 M':datum.value==1000?'1000 k':'500 k'","grid":true,"title":null,"labelPadding":5,"labelOverlap":false}},
    "y2":{"datum":-62},
    "color":{"condition":[{"test":"datum.pc==null","value":"#a0a0a0"},{"test":"datum.c>datum.pc","value":"#4cb848"},{"test":"datum.c<datum.pc","value":"#ff0000"}],"value":"#a0a0a0"}}},
  {"data":{"values":[{}]},"mark":{"type":"text","text":"Volume","align":"left","baseline":"top","dx":8,"dy":4,"fontSize":13,"color":"#000"},
   "encoding":{"x":{"datum":1.5,"type":"quantitative","axis":null},"y":{"datum":2005,"type":"quantitative"}}}
 ]},
{"width":788,"height":17,"data":{"name":"yb"},"mark":{"type":"rule","color":"#000","strokeWidth":2},
 "encoding":{"x":{"field":"b","type":"quantitative","scale":{"domain":[1.5,501.5],"nice":false,"zero":false},"axis":null}}},
{"width":788,"height":14,
 "layer":[
  {"data":{"name":"yb"},"mark":{"type":"rule","color":"#000","strokeWidth":2},
   "encoding":{"x":{"field":"b","type":"quantitative","scale":{"domain":[1.5,501.5],"nice":false,"zero":false},"axis":null}}},
  {"data":{"name":"yr"},"mark":{"type":"text","fontSize":13,"color":"#000","baseline":"middle"},
   "encoding":{"x":{"field":"i","aggregate":"mean","type":"quantitative","axis":null},"text":{"field":"yr","type":"nominal"}}}
 ]}
]
}
